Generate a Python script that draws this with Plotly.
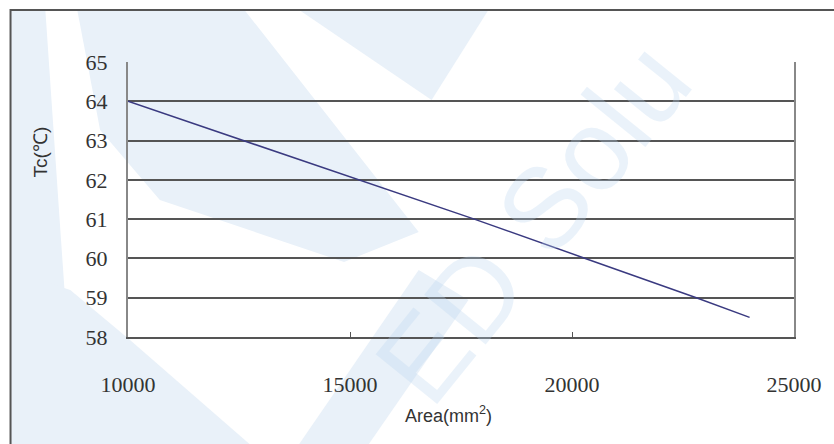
import plotly.graph_objects as go

# Case temperature vs. heat-sink area
area_mm2 = [10000, 12600, 15200, 17800, 20300, 22800, 24000]
tc_c = [64.0, 63.0, 62.0, 61.0, 60.0, 59.0, 58.5]

x_ticks = [10000, 15000, 20000, 25000]
y_ticks = [58, 59, 60, 61, 62, 63, 64, 65]

W, H = 834, 444
L, R, T, B = 128, 37, 62, 107
PW, PH = W - L - R, H - T - B


def px(x, y):
    """pixel position -> paper coordinates"""
    return (x - L) / PW, 1 - (y - T) / PH


def poly(points, color="#e9f1f9"):
    pts = [px(x, y) for x, y in points]
    d = "M " + " L ".join(f"{a:.4f},{b:.4f}" for a, b in pts) + " Z"
    return dict(type="path", xref="paper", yref="paper", path=d,
                fillcolor=color, line=dict(width=0), layer="below")


fig = go.Figure()
fig.add_trace(go.Scatter(x=area_mm2, y=tc_c, mode="lines",
                         line=dict(color="#3a3a80", width=1.5),
                         showlegend=False, hoverinfo="x+y"))

shapes = [
    # faint background logo
    poly([(10, 10), (45, 10), (60, 230), (75, 444), (10, 444)]),
    poly([(77, 10), (245, 10), (420, 232), (345, 262), (160, 200), (100, 130)]),
    poly([(300, 10), (490, 10), (433, 100)]),
    poly([(10, 270), (70, 290), (130, 340), (250, 444), (10, 444)]),
    poly([(300, 444), (370, 444), (470, 300), (420, 270)]),
    # outer frame
    dict(type="rect", xref="paper", yref="paper",
         x0=px(10, 0)[0], x1=px(900, 0)[0], y0=px(0, 10)[1], y1=px(0, 520)[1],
         line=dict(color="#555555", width=2), fillcolor="rgba(0,0,0,0)", layer="above"),
]

cx, cy = px(535, 222)
annotations = [
    dict(text="ED Solu", x=cx, y=cy, xref="paper", yref="paper",
         xanchor="center", yanchor="middle", showarrow=False, textangle=-51,
         font=dict(family="Liberation Sans", size=115, color="rgba(185,212,240,0.3)")),
    dict(text="Tc(℃)", x=px(40, 152)[0], y=px(40, 152)[1], xref="paper", yref="paper",
         xanchor="center", yanchor="middle", showarrow=False, textangle=-90,
         font=dict(family="Liberation Sans", size=19, color="#333333")),
    dict(text="Area(mm<sup>2</sup>)", x=px(450, 414)[0], y=px(450, 414)[1],
         xref="paper", yref="paper", xanchor="center", yanchor="middle", showarrow=False,
         font=dict(family="Liberation Sans", size=18, color="#333333")),
]

fig.update_layout(
    width=W, height=H,
    margin=dict(l=L, r=R, t=T, b=B),
    paper_bgcolor="white", plot_bgcolor="rgba(0,0,0,0)",
    shapes=shapes, annotations=annotations,
    xaxis=dict(range=[10000, 25000], tickvals=x_ticks, ticktext=[str(v) for v in x_ticks],
               showgrid=False, zeroline=False, showline=True, linecolor="#555555", linewidth=2,
               ticks="inside", ticklen=5, tickcolor="#555555", tickwidth=1,
               ticklabelstandoff=27,
               tickfont=dict(family="Liberation Serif", size=22, color="#333333")),
    yaxis=dict(range=[58, 65], tickvals=y_ticks, ticktext=[str(v) for v in y_ticks],
               showgrid=True, gridcolor="#555555", gridwidth=2, zeroline=False,
               showline=True, mirror=True, linecolor="#888888", linewidth=2,
               ticks="", ticklabelstandoff=14,
               tickfont=dict(family="Liberation Serif", size=22, color="#333333")),
)

fig.write_html("out.html")
